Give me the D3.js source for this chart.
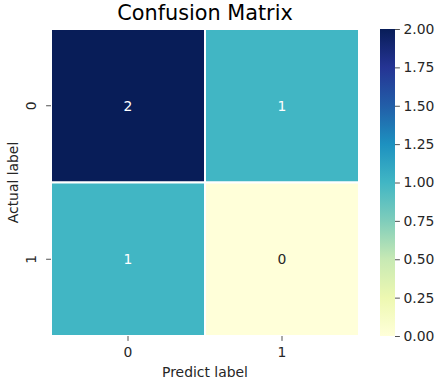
<!DOCTYPE html>
<html lang="en">
<head>
<meta charset="UTF-8">
<title>Confusion Matrix</title>
<style>
  body { margin: 0; background: #fff; }
  text { font-family: "DejaVu Sans", sans-serif; fill: #262626; }
</style>
</head>
<body>
<div id="chart"></div>
<script src="https://cdn.jsdelivr.net/npm/d3@7"></script>
<script>
// data
const actualLabels = ["0", "1"];
const predictLabels = ["0", "1"];
const counts = [
  [2, 1],
  [1, 0]
];
const colorbarTicks = [0, 0.25, 0.5, 0.75, 1, 1.25, 1.5, 1.75, 2];
// YlGnBu colour stops (piecewise linear, like matplotlib)
const ylgnbu = ["#ffffd9", "#edf8b1", "#c7e9b4", "#7fcdbb", "#41b6c4", "#1d91c0", "#225ea8", "#253494", "#081d58"];

const W = 441, H = 388;
const plot = { left: 51, top: 29, right: 359, bottom: 336 };
const bar = { left: 380, right: 395 };

const svg = d3.select("#chart").append("svg")
  .attr("width", W).attr("height", H);

const x = d3.scaleBand().domain(predictLabels).range([plot.left, plot.right]);
const y = d3.scaleBand().domain(actualLabels).range([plot.top, plot.bottom]);
const color = d3.scaleLinear()
  .domain(ylgnbu.map((c, i) => 2 * i / (ylgnbu.length - 1)))
  .range(ylgnbu)
  .interpolate(d3.interpolateRgb);

const cells = [];
counts.forEach((row, i) => row.forEach((v, j) => cells.push({ a: actualLabels[i], p: predictLabels[j], v })));

svg.selectAll("rect.cell").data(cells).enter().append("rect")
  .attr("class", "cell")
  .attr("x", d => x(d.p)).attr("y", d => y(d.a))
  .attr("width", x.bandwidth()).attr("height", y.bandwidth())
  .attr("fill", d => color(d.v))
  .attr("stroke", "#fff").attr("stroke-width", 2);

svg.selectAll("text.annot").data(cells).enter().append("text")
  .attr("class", "annot")
  .attr("x", d => x(d.p) + x.bandwidth() / 2)
  .attr("y", d => y(d.a) + y.bandwidth() / 2)
  .attr("dy", "0.35em")
  .attr("text-anchor", "middle")
  .style("font-size", "13.9px")
  .style("fill", d => d.v >= 0.9 ? "#fff" : "#262626")
  .text(d => d.v);

// x axis
const xAxis = svg.append("g");
predictLabels.forEach(l => {
  const cx = x(l) + x.bandwidth() / 2;
  xAxis.append("line").attr("x1", cx).attr("x2", cx)
    .attr("y1", plot.bottom).attr("y2", plot.bottom + 4.9)
    .attr("stroke", "#262626").attr("stroke-width", 0.8);
  xAxis.append("text").attr("x", cx).attr("y", plot.bottom + 21)
    .attr("text-anchor", "middle").style("font-size", "13.9px").text(l);
});
svg.append("text").attr("x", (plot.left + plot.right) / 2).attr("y", 377)
  .attr("text-anchor", "middle").style("font-size", "13.9px").text("Predict label");

// y axis
const yAxis = svg.append("g");
actualLabels.forEach(l => {
  const cy = y(l) + y.bandwidth() / 2;
  yAxis.append("line").attr("x1", plot.left - 4.9).attr("x2", plot.left)
    .attr("y1", cy).attr("y2", cy)
    .attr("stroke", "#262626").attr("stroke-width", 0.8);
  yAxis.append("text")
    .attr("transform", `translate(${plot.left - 15},${cy}) rotate(-90)`)
    .attr("text-anchor", "middle").style("font-size", "13.9px").text(l);
});
svg.append("text")
  .attr("transform", `translate(18,${(plot.top + plot.bottom) / 2}) rotate(-90)`)
  .attr("text-anchor", "middle").style("font-size", "13.9px").text("Actual label");

// title
svg.append("text").attr("x", (plot.left + plot.right) / 2).attr("y", 20)
  .attr("text-anchor", "middle").style("font-size", "20.8px").style("fill", "#000")
  .text("Confusion Matrix");

// colorbar
const cb = d3.scaleLinear().domain([0, 2]).range([plot.bottom, plot.top]);
const defs = svg.append("defs");
const grad = defs.append("linearGradient").attr("id", "cbgrad")
  .attr("x1", 0).attr("y1", 1).attr("x2", 0).attr("y2", 0);
ylgnbu.forEach((c, i) => {
  grad.append("stop").attr("offset", i / (ylgnbu.length - 1)).attr("stop-color", c);
});
svg.append("rect").attr("x", bar.left).attr("y", plot.top)
  .attr("width", bar.right - bar.left).attr("height", plot.bottom - plot.top)
  .attr("fill", "url(#cbgrad)");

const cbAxis = svg.append("g").attr("transform", `translate(${bar.right},0)`)
  .call(d3.axisRight(cb).tickValues(colorbarTicks).tickFormat(d3.format(".2f")).tickSize(4.9).tickPadding(3.5));
cbAxis.select(".domain").remove();
cbAxis.selectAll(".tick line").attr("stroke", "#262626").attr("stroke-width", 0.8);
cbAxis.selectAll(".tick text").style("font-size", "13.9px").attr("font-family", null).style("fill", "#262626");
</script>
</body>
</html>
